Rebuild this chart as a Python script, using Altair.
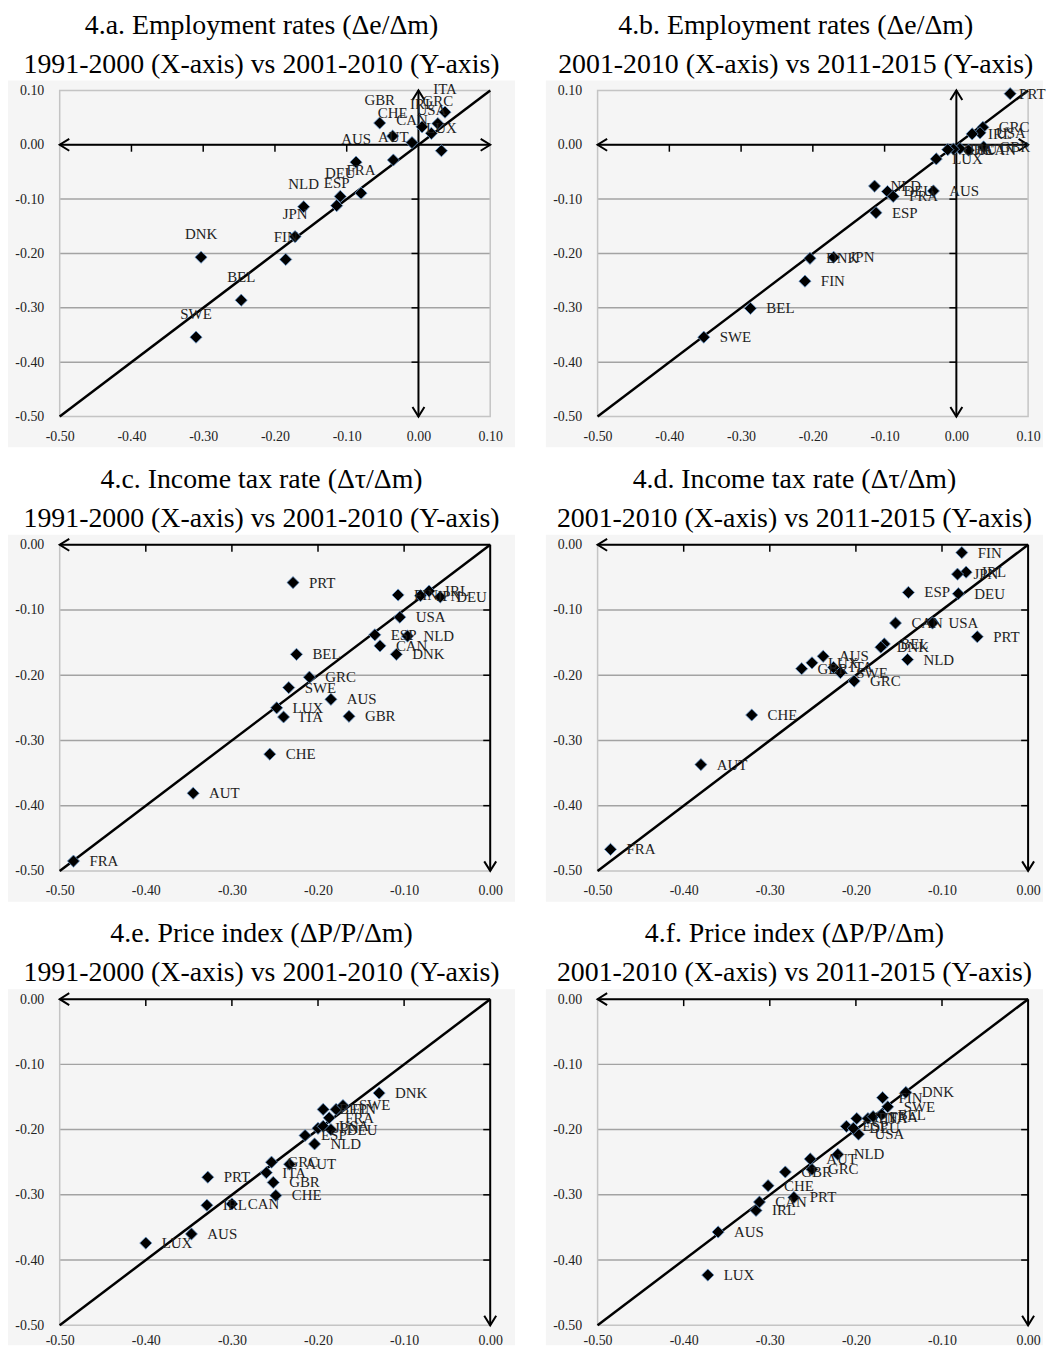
import altair as alt
import pandas as pd

# ---------------- data ----------------
TICKS_WIDE = [-0.5, -0.4, -0.3, -0.2, -0.1, 0.0, 0.1]
TICKS_NEG = [-0.5, -0.4, -0.3, -0.2, -0.1, 0.0]

title_a = ["4.a. Employment rates (Δe/Δm)", "1991-2000 (X-axis) vs 2001-2010 (Y-axis)"]
names_a = ["ITA", "GRC", "IRL", "USA", "LUX", "CAN", "CHE", "GBR", "AUT", "AUS",
           "FRA", "DEU", "ESP", "NLD", "JPN", "FIN", "DNK", "BEL", "SWE"]
x_a = [0.037, 0.027, 0.005, 0.018, 0.032, -0.009, -0.036, -0.054, -0.035, -0.087,
       -0.080, -0.109, -0.114, -0.160, -0.172, -0.185, -0.303, -0.247, -0.310]
y_a = [0.060, 0.039, 0.033, 0.021, -0.011, 0.004, 0.016, 0.040, -0.028, -0.032,
       -0.089, -0.095, -0.112, -0.114, -0.169, -0.211, -0.207, -0.286, -0.354]

title_b = ["4.b. Employment rates (Δe/Δm)", "2001-2010 (X-axis) vs 2011-2015 (Y-axis)"]
names_b = ["PRT", "GRC", "USA", "IRL", "GBR", "CAN", "AUT", "ITA", "CHE", "LUX",
           "NLD", "DEU", "FRA", "AUS", "ESP", "DNK", "JPN", "FIN", "BEL", "SWE"]
x_b = [0.075, 0.037, 0.033, 0.022, 0.038, 0.017, 0.005, -0.004, -0.012, -0.028,
       -0.114, -0.096, -0.088, -0.032, -0.112, -0.204, -0.171, -0.211, -0.287, -0.352]
y_b = [0.094, 0.032, 0.022, 0.020, -0.004, -0.010, -0.007, -0.008, -0.009, -0.026,
       -0.076, -0.086, -0.095, -0.085, -0.125, -0.209, -0.207, -0.251, -0.301, -0.354]

title_c = ["4.c. Income tax rate (Δτ/Δm)", "1991-2000 (X-axis) vs 2001-2010 (Y-axis)"]
names_c = ["FRA", "AUT", "CHE", "PRT", "BEL", "GRC", "SWE", "AUS", "LUX", "ITA",
           "GBR", "FIN", "JPN", "IRL", "DEU", "USA", "ESP", "CAN", "NLD", "DNK"]
x_c = [-0.484, -0.345, -0.256, -0.229, -0.225, -0.210, -0.234, -0.185, -0.248, -0.240,
       -0.164, -0.107, -0.081, -0.071, -0.058, -0.105, -0.134, -0.128, -0.096, -0.109]
y_c = [-0.485, -0.381, -0.321, -0.058, -0.168, -0.203, -0.219, -0.237, -0.250, -0.264,
       -0.263, -0.077, -0.078, -0.071, -0.080, -0.111, -0.138, -0.155, -0.140, -0.168]

title_d = ["4.d. Income tax rate (Δτ/Δm)", "2001-2010 (X-axis) vs 2011-2015 (Y-axis)"]
names_d = ["FIN", "IRL", "JPN", "ESP", "DEU", "CAN", "USA", "PRT", "BEL", "DNK",
           "NLD", "AUS", "LUX", "GBR", "ITA", "SWE", "GRC", "CHE", "AUT", "FRA"]
x_d = [-0.077, -0.072, -0.082, -0.139, -0.081, -0.154, -0.111, -0.059, -0.167, -0.171,
       -0.140, -0.238, -0.251, -0.263, -0.226, -0.218, -0.202, -0.321, -0.380, -0.485]
y_d = [-0.012, -0.042, -0.045, -0.073, -0.075, -0.120, -0.120, -0.141, -0.152, -0.157,
       -0.176, -0.171, -0.181, -0.190, -0.188, -0.196, -0.209, -0.261, -0.337, -0.467]

title_e = ["4.e. Price index (ΔP/P/Δm)", "1991-2000 (X-axis) vs 2001-2010 (Y-axis)"]
names_e = ["LUX", "AUS", "PRT", "IRL", "CAN", "GRC", "ITA", "GBR", "CHE", "AUT",
           "NLD", "ESP", "JPN", "USA", "DEU", "FRA", "BEL", "FIN", "SWE", "DNK"]
x_e = [-0.400, -0.347, -0.328, -0.329, -0.300, -0.254, -0.260, -0.252, -0.249, -0.233,
       -0.204, -0.215, -0.200, -0.194, -0.185, -0.187, -0.194, -0.179, -0.171, -0.129]
y_e = [-0.374, -0.360, -0.273, -0.316, -0.314, -0.250, -0.266, -0.281, -0.301, -0.253,
       -0.222, -0.209, -0.198, -0.195, -0.200, -0.182, -0.169, -0.169, -0.163, -0.144]

title_f = ["4.f. Price index (ΔP/P/Δm)", "2001-2010 (X-axis) vs 2011-2015 (Y-axis)"]
names_f = ["LUX", "AUS", "IRL", "CAN", "CHE", "PRT", "GBR", "GRC", "AUT", "NLD",
           "USA", "ESP", "DEU", "JPN", "ITA", "FRA", "BEL", "SWE", "FIN", "DNK"]
x_f = [-0.372, -0.360, -0.316, -0.312, -0.302, -0.272, -0.282, -0.251, -0.253, -0.221,
       -0.197, -0.211, -0.203, -0.199, -0.186, -0.180, -0.170, -0.163, -0.169, -0.142]
y_f = [-0.423, -0.357, -0.324, -0.311, -0.286, -0.304, -0.265, -0.261, -0.245, -0.238,
       -0.207, -0.195, -0.198, -0.183, -0.183, -0.180, -0.177, -0.165, -0.151, -0.143]

# ---------------- style ----------------
SERIF = "Liberation Serif"
W, H = 433, 328
BG = "#f5f5f5"
LABEL_EXPR = "(datum.value < -0.0001 ? '-' : '') + format(abs(datum.value), '.2f')"
ARROW_DIRS = ["left", "right", "up", "down"]
ARROW_PATHS = ["M 1.6 -1 L 0 0 L 1.6 1", "M -1.6 -1 L 0 0 L -1.6 1",
               "M -1 1.6 L 0 0 L 1 1.6", "M -1 -1.6 L 0 0 L 1 -1.6"]


def panel(title_lines, names, xs, ys, ticks, label_above, cross_center, ext_r, ext_b, xpad):
    lo, hi = ticks[0], ticks[-1]
    inner = [t for t in ticks if t not in (lo, hi, 0.0)]

    def axis(pad):
        return alt.Axis(values=ticks, labelExpr=LABEL_EXPR, domain=False, ticks=False,
                        grid=False, labelPadding=pad, labelFlush=False, labelOverlap=False,
                        labelFont=SERIF, labelFontSize=14, labelColor="#222222", title=None,
                        zindex=2)

    xsc = alt.Scale(domain=[lo, hi], nice=False, zero=False)
    ysc = alt.Scale(domain=[lo, hi], nice=False, zero=False)
    xax, yax = axis(xpad), axis(16)

    def X(f):
        return alt.X(f, type="quantitative", scale=xsc, axis=xax)

    def Y(f):
        return alt.Y(f, type="quantitative", scale=ysc, axis=yax)

    bg = alt.Chart(pd.DataFrame({"k": [0]})).mark_rect(fill=BG).encode(
        x=alt.value(-52), x2=alt.value(W + ext_r), y=alt.value(-10), y2=alt.value(H + ext_b))

    grid = alt.Chart(pd.DataFrame({"v": inner + ([0.0] if cross_center else [])})).mark_rule(
        color="#a3a3a3", strokeWidth=1.5).encode(y=Y("v"))

    frame = alt.Chart(pd.DataFrame({"x0": [lo], "x1": [hi], "y0": [lo], "y1": [hi]})).mark_rect(
        fillOpacity=0, stroke="#c4c4c4", strokeWidth=1.5).encode(
        x=X("x0"), x2=alt.X2("x1"), y=Y("y0"), y2=alt.Y2("y1"))

    diag = alt.Chart(pd.DataFrame({"v": [lo, hi]})).mark_line(
        color="black", strokeWidth=2.5).encode(x=X("v"), y=Y("v"))

    if cross_center:
        seg = pd.DataFrame({"x": [lo, 0.0], "x2": [hi, 0.0], "y": [0.0, lo], "y2": [0.0, hi]})
        arr = pd.DataFrame({"x": [lo, hi, 0.0, 0.0], "y": [0.0, 0.0, hi, lo],
                            "d": ["left", "right", "up", "down"]})
    else:
        seg = pd.DataFrame({"x": [lo, 0.0], "x2": [hi, 0.0], "y": [0.0, lo], "y2": [0.0, 0.0]})
        arr = pd.DataFrame({"x": [lo, 0.0], "y": [0.0, lo], "d": ["left", "down"]})

    axes = alt.Chart(seg).mark_rule(color="black", strokeWidth=2).encode(
        x=X("x"), x2=alt.X2("x2"), y=Y("y"), y2=alt.Y2("y2"))

    tick_h = alt.Chart(pd.DataFrame({"x": inner, "y": [0.0] * len(inner)})).mark_tick(
        orient="vertical", size=7, thickness=1.5, color="black", yOffset=3.5, opacity=1).encode(
        x=X("x"), y=Y("y"))
    tick_v = alt.Chart(pd.DataFrame({"y": inner, "x": [0.0] * len(inner)})).mark_tick(
        orient="horizontal", size=7, thickness=1.5, color="black", xOffset=-3.5, opacity=1).encode(
        x=X("x"), y=Y("y"))

    heads = alt.Chart(arr).mark_point(filled=False, size=144, strokeWidth=2, color="black",
                                      opacity=1).encode(
        x=X("x"), y=Y("y"),
        shape=alt.Shape("d:N", scale=alt.Scale(domain=ARROW_DIRS, range=ARROW_PATHS), legend=None))

    df = pd.DataFrame({"name": names, "x": xs, "y": ys})
    pts = alt.Chart(df).mark_point(shape="diamond", filled=True, size=150, fill="black",
                                   stroke="#6b9bd2", strokeWidth=0.8, opacity=1).encode(
        x=X("x"), y=Y("y"))
    tstyle = dict(font=SERIF, fontSize=15, color="#222222")
    if label_above:
        label_layers = [alt.Chart(df).mark_text(align="center", baseline="middle", dy=-23,
                                                **tstyle).encode(x=X("x"), y=Y("y"), text="name:N")]
    else:
        edge = hi - 0.04
        label_layers = [
            alt.Chart(df).transform_filter(f"datum.x <= {edge}").mark_text(
                align="left", baseline="middle", dx=16, **tstyle).encode(
                x=X("x"), y=Y("y"), text="name:N"),
            alt.Chart(df).transform_filter(f"datum.x > {edge}").mark_text(
                align="left", baseline="middle", dx=9, **tstyle).encode(
                x=X("x"), y=Y("y"), text="name:N"),
        ]

    return alt.layer(bg, grid, frame, diag, axes, tick_h, tick_v, heads, pts,
                     *label_layers).properties(
        width=W, height=H,
        title=alt.TitleParams(text=title_lines[0], subtitle=title_lines[1], font=SERIF,
                              fontSize=28, fontWeight="normal", color="black",
                              subtitleFont=SERIF, subtitleFontSize=28, subtitleColor="black",
                              subtitlePadding=11, anchor="middle", offset=2, frame="bounds"))


pa = panel(title_a, names_a, x_a, y_a, TICKS_WIDE, True, True, 25, 31, 13)
pb = panel(title_b, names_b, x_b, y_b, TICKS_WIDE, False, True, 15, 31, 13)
pc = panel(title_c, names_c, x_c, y_c, TICKS_NEG, False, False, 25, 31, 13)
pd_ = panel(title_d, names_d, x_d, y_d, TICKS_NEG, False, False, 15, 31, 13)
pe = panel(title_e, names_e, x_e, y_e, TICKS_NEG, False, False, 25, 20, 8)
pf = panel(title_f, names_f, x_f, y_f, TICKS_NEG, False, False, 15, 20, 8)

chart = alt.vconcat(
    alt.hconcat(pa, pb, spacing=31),
    alt.hconcat(pc, pd_, spacing=31),
    alt.hconcat(pe, pf, spacing=31),
    spacing=19,
).properties(padding=0).configure_view(strokeWidth=0)

chart.save("out.html", embed_options={"renderer": "svg", "actions": False})
